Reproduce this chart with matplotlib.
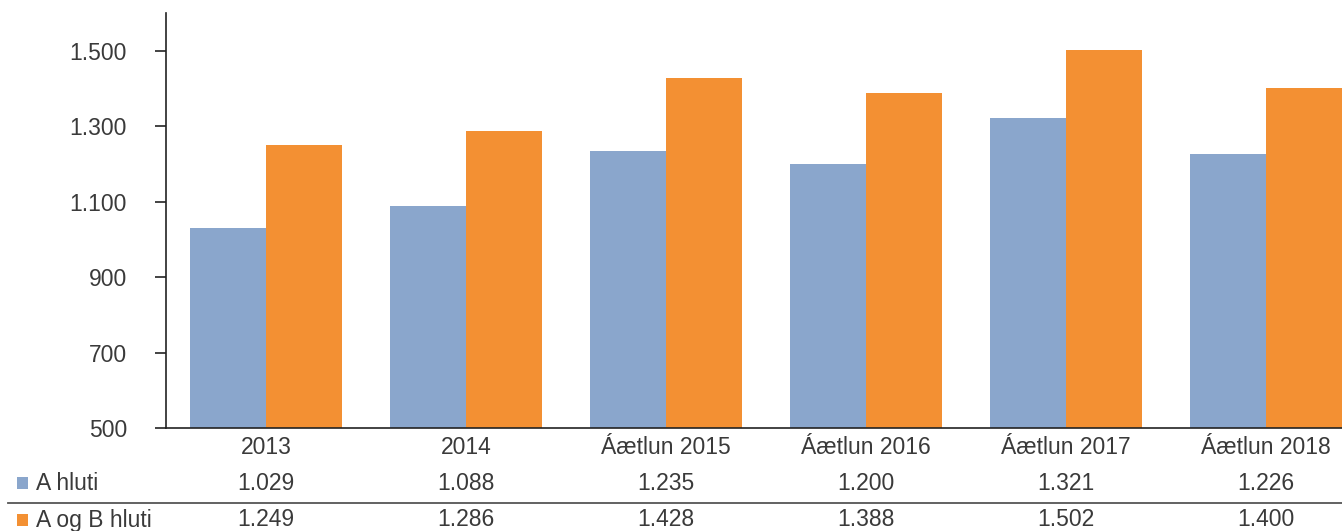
import matplotlib
matplotlib.use("Agg")
import matplotlib.pyplot as plt
from matplotlib.patches import Rectangle
from matplotlib.lines import Line2D
import matplotlib.transforms as mtransforms
import numpy as np

categories = ["2013", "2014", "Áætlun 2015", "Áætlun 2016", "Áætlun 2017", "Áætlun 2018"]
series_names = ["A hluti", "A og B hluti"]
a_hluti = [1029, 1088, 1235, 1200, 1321, 1226]
a_og_b = [1249, 1286, 1428, 1388, 1502, 1400]
yticks = [500, 700, 900, 1100, 1300, 1500]

colors = ["#8AA6CC", "#F39033"]
txt = "#3a3a3a"
plt.rcParams['font.family'] = ['Liberation Sans', 'DejaVu Sans']
FS = 16.5

W, H = 1342, 531
fig = plt.figure(figsize=(W/100, H/100), dpi=100)
ax = fig.add_axes([166/W, (H-428)/H, 1200/W, (428-13)/H])

x = np.arange(len(categories))
bw = 0.38
ax.bar(x - bw/2, a_hluti, width=bw, color=colors[0])
ax.bar(x + bw/2, a_og_b, width=bw, color=colors[1])
ax.set_ylim(500, 1600)
ax.set_xlim(-0.5, len(categories) - 0.5)

ax.set_yticks(yticks)
ax.set_yticklabels([f"{v:,}".replace(",", ".") for v in yticks])
ax.set_xticks(x)
ax.set_xticklabels(categories)
ax.tick_params(axis='y', length=8, width=1.2, pad=20, labelsize=FS, labelcolor=txt, color="#222222")
ax.tick_params(axis='x', length=0, pad=6, labelsize=FS, labelcolor=txt)
for s in ["top", "right"]:
    ax.spines[s].set_visible(False)
ax.spines["left"].set_color("#222222")
ax.spines["left"].set_linewidth(1.2)
ax.spines["bottom"].set_color("#222222")
ax.spines["bottom"].set_linewidth(1.2)

# data table below
trans = mtransforms.blended_transform_factory(ax.transData, fig.transFigure)
rows = [a_hluti, a_og_b]
row_y = [483, 520]
for r, (vals, name, c, yp) in enumerate(zip(rows, series_names, colors, row_y)):
    yf = (H - yp) / H
    for xi, v in zip(x, vals):
        ax.text(xi, yf, f"{v:,}".replace(",", "."), transform=trans, ha="center", va="center",
                fontsize=FS, color=txt, clip_on=False)
    fig.patches.append(Rectangle((17/W, (H - yp - 6)/H), 11/W, 12/H, transform=fig.transFigure,
                                 facecolor=c, edgecolor="none"))
    fig.text(36/W, yf, name, ha="left", va="center", fontsize=FS, color=txt)

fig.lines.append(Line2D([8/W, 1.0], [(H-503)/H]*2, transform=fig.transFigure, color="#555555", linewidth=1.3))

fig.savefig("out.png", dpi=100)
